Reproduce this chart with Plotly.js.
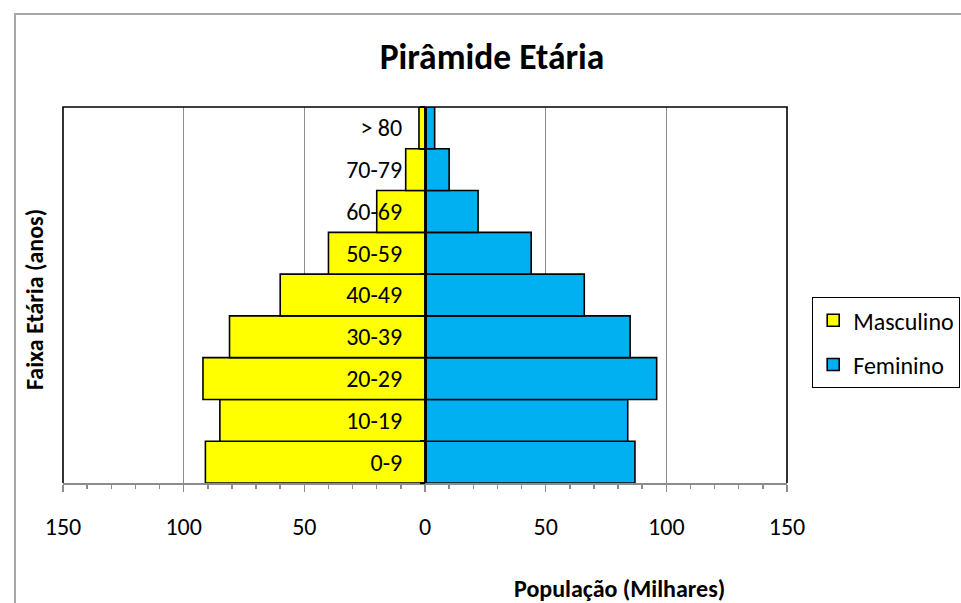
<!DOCTYPE html>
<html>
<head>
<meta charset="utf-8">
<script src="https://cdn.plot.ly/plotly-3.0.1.min.js"></script>
<style>html,body{margin:0;padding:0;background:#fff;}#chart{width:961px;height:603px;}</style>
</head>
<body>
<div id="chart"></div>
<script>
const categories = ['0-9', '10-19', '20-29', '30-39', '40-49', '50-59', '60-69', '70-79', '> 80'];
const masculino = [91, 85, 92, 81, 60, 40, 20, 8, 2.5];
const feminino = [87, 84, 96, 85, 66, 44, 22, 10, 4];
const tickValues = [-150, -100, -50, 0, 50, 100, 150];
const tickLabels = ['150', '100', '50', '0', '50', '100', '150'];

const FONT = 'Carlito, Lato, "Open Sans", sans-serif';

const traces = [
  {
    type: 'bar', orientation: 'h', name: 'Masculino', legendgroup: 'm',
    y: categories, x: masculino.map(v => -v),
    marker: {color: '#FFFF00', line: {color: '#000', width: 1.6}},
    hoverinfo: 'skip'
  },
  {
    type: 'bar', orientation: 'h', name: 'Feminino', legendgroup: 'f',
    y: categories, x: feminino,
    marker: {color: '#00B0F0', line: {color: '#000', width: 1.6}},
    hoverinfo: 'skip'
  }
];

const L = 63, R = 787, T = 107, B = 483, W = 961, H = 603;
const px = v => (v - L) / (R - L);
const py = v => (B - v) / (B - T);

const layout = {
  width: W, height: H,
  margin: {l: L, r: W - R, t: T, b: H - B, pad: 0, autoexpand: false},
  paper_bgcolor: '#fff', plot_bgcolor: '#fff',
  font: {family: FONT, color: '#000', size: 24},
  showlegend: true,
  barmode: 'relative', bargap: 0,
  title: {
    text: '<b>Pirâmide Etária</b>',
    font: {family: FONT, size: 35.5, color: '#000'},
    xref: 'container', x: 492 / W, xanchor: 'center',
    yref: 'container', y: 1 - 57 / H, yanchor: 'middle'
  },
  xaxis: {
    range: [-150, 150], fixedrange: true,
    tickmode: 'array', tickvals: tickValues, ticktext: tickLabels,
    ticks: 'outside', ticklen: 7, tickwidth: 1.5, tickcolor: '#8c8c8c',
    ticklabelstandoff: 14,
    tickfont: {family: FONT, size: 24, color: '#000'},
    minor: {tick0: 0, dtick: 10, ticks: 'outside', ticklen: 4, tickwidth: 1.5, tickcolor: '#8c8c8c', showgrid: false},
    showgrid: true, gridcolor: '#8c8c8c', gridwidth: 1.5,
    zeroline: false,
    showline: true, linecolor: '#8c8c8c', linewidth: 2,
    automargin: false
  },
  yaxis: {
    type: 'category', categoryorder: 'array', categoryarray: categories,
    anchor: 'free', position: 0.5, side: 'left',
    ticks: 'outside', tickson: 'boundaries', ticklen: 5, tickcolor: '#000', tickwidth: 1.5,
    ticklabelstandoff: 18,
    tickfont: {family: FONT, size: 24, color: '#000'},
    showgrid: false, zeroline: false,
    showline: true, linecolor: '#000', linewidth: 1.6,
    automargin: false, fixedrange: true
  },
  legend: {
    x: px(812), xanchor: 'left', y: py(297), yanchor: 'top',
    bordercolor: '#000', borderwidth: 1.2, bgcolor: '#fff',
    font: {family: FONT, size: 24, color: '#000'},
    tracegroupgap: 10, traceorder: 'grouped'
  },
  shapes: [
    {type: 'path', xref: 'paper', yref: 'paper',
     path: 'M0,0 L0,1 L1,1 L1,0', line: {color: '#000', width: 1.6}, layer: 'above'},
    {type: 'path', xref: 'paper', yref: 'paper',
     path: 'M' + px(15) + ',' + py(H + 10) + ' L' + px(15) + ',' + py(14) + ' L' + px(W + 10) + ',' + py(14),
     line: {color: '#a6a6a6', width: 2}, layer: 'below'}
  ],
  annotations: [
    {text: '<b>População (Milhares)</b>', xref: 'paper', yref: 'paper',
     x: px(619), y: py(588), xanchor: 'center', yanchor: 'middle', showarrow: false,
     font: {family: FONT, size: 24, color: '#000'}},
    {text: '<b>Faixa Etária (anos)</b>', xref: 'paper', yref: 'paper',
     x: px(34), y: py(300), xanchor: 'center', yanchor: 'middle', showarrow: false, textangle: -90,
     font: {family: FONT, size: 24, color: '#000'}}
  ]
};

Plotly.newPlot('chart', traces, layout, {displayModeBar: false, staticPlot: true});
</script>
</body>
</html>
